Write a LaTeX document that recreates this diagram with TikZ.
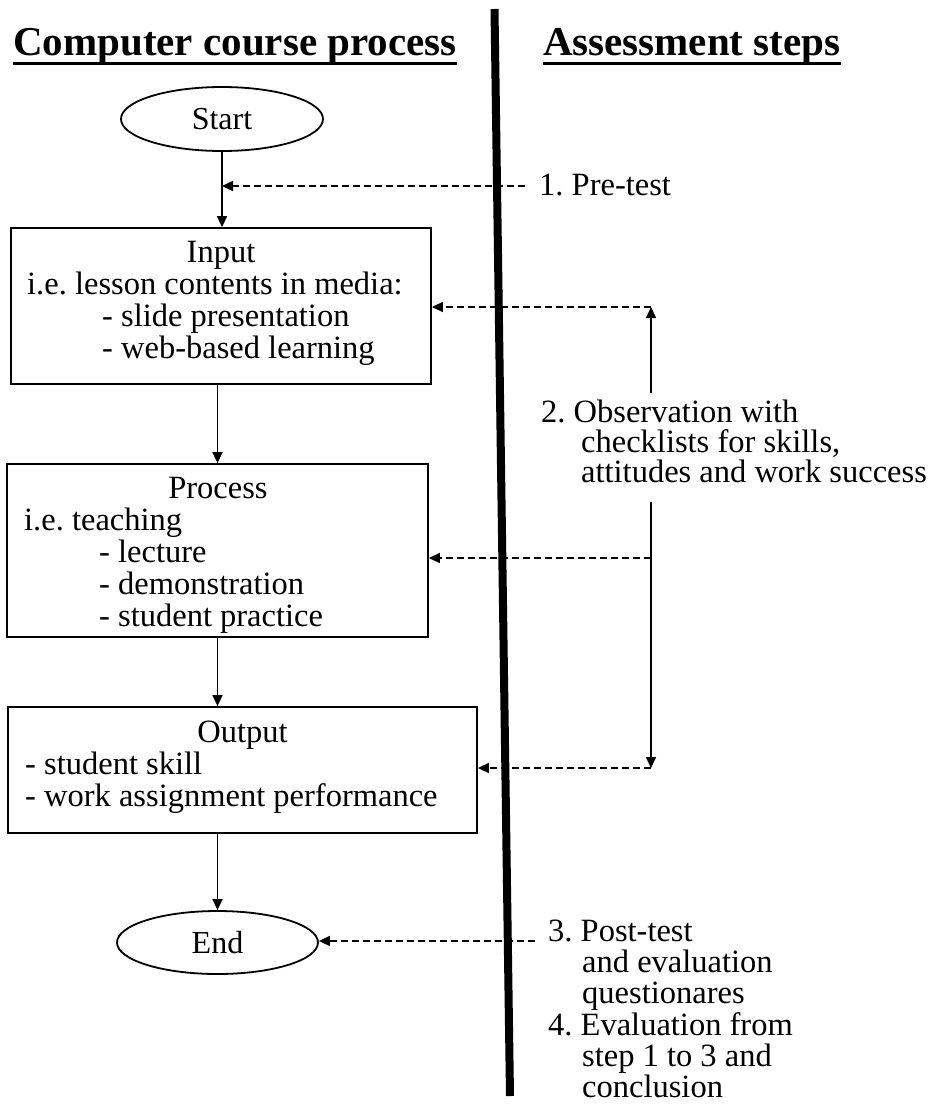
\documentclass[tikz,border=0pt]{standalone}
\usepackage{fontspec}
\setmainfont{Liberation Serif}
\usetikzlibrary{arrows.meta,shapes.geometric}
\begin{document}
\frenchspacing
\begin{tikzpicture}[x=1pt,y=-1pt,
  head/.style={anchor=base west,inner sep=0pt,font=\fontsize{41}{46}\selectfont\bfseries},
  uline/.style={line width=3pt},
  txt/.style={anchor=base west,inner sep=0pt,font=\fontsize{32.5}{36}\selectfont},
  txtc/.style={anchor=base,inner sep=0pt,font=\fontsize{32.5}{36}\selectfont},
  pbox/.style={draw,line width=1.8pt,inner sep=0pt},
  term/.style={draw,ellipse,line width=1.8pt,inner sep=0pt,font=\fontsize{32}{36}\selectfont},
  flow/.style={line width=1.6pt,-{Triangle[length=11pt,width=10pt]}},
  dflow/.style={line width=1.6pt,dash pattern=on 7pt off 4pt,-{Triangle[length=11pt,width=10pt]}}]
\useasboundingbox (0,0) rectangle (928,1104);

% headers
\node[head] (h1) at (13,55) {Computer course process};
\node[head] (h2) at (543,55) {Assessment steps};
\draw[uline] ([yshift=-8.5pt]h1.base west) -- ([yshift=-8.5pt]h1.base east);
\draw[uline] ([yshift=-8.5pt]h2.base west) -- ([yshift=-8.5pt]h2.base east);

% divider
\coordinate (dtop) at (494.5,9);
\coordinate (dbot) at (510,1096);
\draw[line width=8pt] (dtop) -- (dbot);

% flow nodes
\node[term,minimum width=202pt,minimum height=64pt] (start) at (222,119) {Start};
\node[pbox,minimum width=420pt,minimum height=156pt] (input) at (221,306) {};
\node[pbox,minimum width=421pt,minimum height=173pt] (process) at (217.5,550.5) {};
\node[pbox,minimum width=469pt,minimum height=126pt] (output) at (242.5,770) {};
\node[term,minimum width=201pt,minimum height=63pt] (end) at (217.5,942.5) {End};

% input text
\node[txtc] (in1) at (221,262) {Input};
\node[txt] (in2) at (27,294) {i.e. lesson contents in media:};
\node[txt] (in3) at (102,326) {- slide presentation};
\node[txt] (in4) at (102,358) {- web-based learning};

% process text
\node[txtc] (pr1) at (218,498) {Process};
\node[txt] (pr2) at (24,530) {i.e. teaching};
\node[txt] (pr3) at (99,562) {- lecture};
\node[txt] (pr4) at (99,594) {- demonstration};
\node[txt] (pr5) at (99,626) {- student practice};

% output text
\node[txtc] (ou1) at (242.5,742) {Output};
\node[txt] (ou2) at (25,774) {- student skill};
\node[txt] (ou3) at (25,806) {- work assignment performance};

% assessment text
\node[txt] (a1) at (539,195) {1. Pre-test};
\node[txt] (a2a) at (541,422) {2. Observation with};
\node[txt] (a2b) at (581,452) {checklists for skills,};
\node[txt] (a2c) at (581,482) {attitudes and work success};
\node[txt] (a3a) at (548,941) {3. Post-test};
\node[txt] (a3b) at (582,972) {and evaluation};
\node[txt] (a3c) at (582,1003) {questionares};
\node[txt] (a4a) at (548,1035) {4. Evaluation from};
\node[txt] (a4b) at (582,1066) {step 1 to 3 and};
\node[txt] (a4c) at (582,1097) {conclusion};

% flow connectors
\draw[flow] (start.south) -- (start.south |- input.north);
\draw[flow] (input.south -| process.north) -- (process.north);
\draw[flow] (process.south) -- (process.south |- output.north);
\draw[flow] (end.north |- output.south) -- (end.north);

% assessment connectors
\coordinate (pre) at (525,186);
\draw[dflow] (pre) -- (pre -| start.south);
\coordinate (oTop) at (651,307);
\coordinate (oMid) at (651,558);
\coordinate (oBot) at (651,768);
\coordinate (oUp) at (651,393);
\coordinate (oDn) at (651,502);
\draw[dflow] (oTop) -- (oTop -| input.east);
\draw[dflow] (oMid) -- (oMid -| process.east);
\draw[dflow] (oBot) -- (oBot -| output.east);
\draw[flow] (oUp) -- (oTop);
\draw[flow] (oDn) -- (oBot);
\coordinate (post) at (535,941);
\draw[dflow] (post) -- (post -| end.east);
\end{tikzpicture}
\end{document}
